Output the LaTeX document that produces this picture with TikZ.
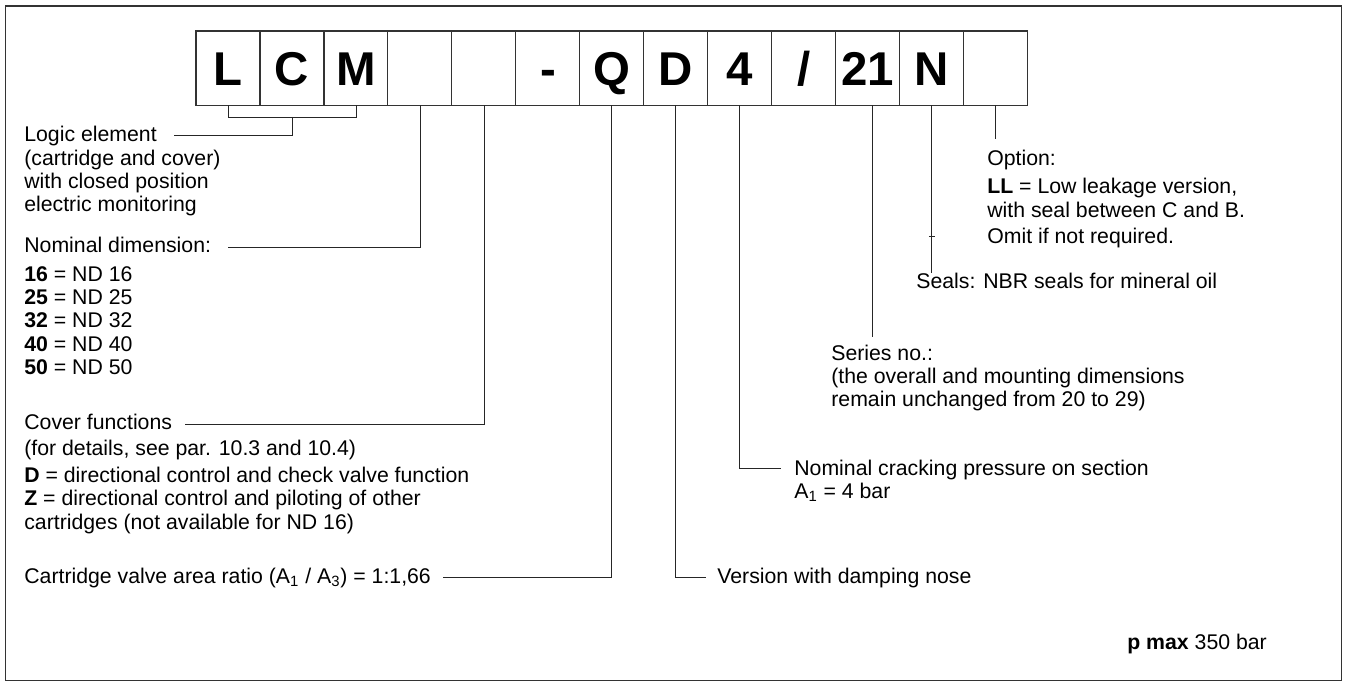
\documentclass[tikz,border=0pt]{standalone}
\usepackage{fontspec}
\setmainfont{Liberation Sans}
\usepackage{tikz}
\usetikzlibrary{positioning, calc}

\newcommand{\lblfont}{\fontsize{12.1}{13.2}\selectfont}

\begin{document}
\begin{tikzpicture}[x=0.02cm, y=-0.02cm,
    cell/.style={draw=black!80, line width=0.6pt, minimum width=1.28cm, minimum height=1.49cm,
                 inner sep=0pt, outer sep=0pt, text height=19.3pt, text depth=0pt,
                 font=\fontsize{27}{30}\selectfont\bfseries},
    lbl/.style={inner sep=0pt, anchor=base west, align=left, font=\lblfont},
    lead/.style={line width=0.5pt, black!85}
]
\useasboundingbox (0,0) rectangle (1347,682);
\draw[line width=0.7pt, black!80] (5.5,6) rectangle (1341.5,680.5);

% code boxes
\node[cell] (b1) at (228,68.25) {L};
\node[cell, right=0pt of b1] (b2) {C};
\node[cell, right=0pt of b2] (b3) {M};
\node[cell, right=0pt of b3] (b4) {};
\node[cell, right=0pt of b4] (b5) {};
\node[cell, right=0pt of b5] (b6) {-};
\node[cell, right=0pt of b6] (b7) {Q};
\node[cell, right=0pt of b7] (b8) {D};
\node[cell, right=0pt of b8] (b9) {4};
\node[cell, right=0pt of b9] (b10) {/};
\node[cell, right=0pt of b10] (b11) {21};
\node[cell, right=0pt of b11] (b12) {N};
\node[cell, right=0pt of b12] (b13) {};

% left column (multi-line nodes sit on their last line)
\node[lbl] (logic) at (24,141.5) {Logic element};
\node[lbl] (logicbody) at (24,211.4)
    {(cartridge and cover)\\with closed position\\electric monitoring};
\node[lbl] (nomdim) at (24,253) {Nominal dimension:};
\node[lbl] (nomlist) at (24,374.2)
    {\textbf{16} = ND 16\\\textbf{25} = ND 25\\\textbf{32} = ND 32\\\textbf{40} = ND 40\\\textbf{50} = ND 50};
\node[lbl] (cover) at (24,430) {Cover functions};
\node[lbl] (coverbody) at (24,529)
    {(for details, see par. 10.3 and 10.4)\\[2.4pt]
     \textbf{D} = directional control and check valve function\\
     \textbf{Z} = directional control and piloting of other\\
     cartridges (not available for ND 16)};
\node[lbl] (ratio) at (24,583)
    {Cartridge valve area ratio (A\textsubscript{1} / A\textsubscript{3}) = 1:1,66};

% right side
\node[lbl] (damp) at (717,583) {Version with damping nose};
\node[lbl] (crack) at (794,498.3) {Nominal cracking pressure on section\\A\textsubscript{1} = 4 bar};
\node[lbl] (series) at (831,406.6)
    {Series no.:\\(the overall and mounting dimensions\\remain unchanged from 20 to 29)};
\node[lbl] (seals) at (916,288.5) {Seals: NBR seals for mineral oil};
\node[lbl] (option) at (987,243.5)
    {Option:\\[3.2pt]\textbf{LL} = Low leakage version,\\with seal between C and B.\\[1.8pt]Omit if not required.};
\node[lbl] (pmax) at (1127,649.5) {\textbf{p max} 350 bar};

% leaders
\draw[lead] (b1.south) -- ++(0,11.5) -| (b3.south);
\draw[lead] (b2.south |- 0,117) |- ($(logic.base east)+(17,-6.5)$);
\draw[lead] (b4.south) |- ($(nomdim.base east)+(17,-6)$);
\draw[lead] (b5.south) |- ($(cover.base east)+(13,-6)$);
\draw[lead] (b7.south) |- ($(ratio.base east)+(12,-6)$);
\draw[lead] (b8.south) |- ($(damp.base west)+(-11,-6)$);
\draw[lead] (b9.south) |- ($(crack.north west)+(-13,9.5)$);
\draw[lead] ($(b11.south)+(5,0)$) -- ($(b11.south |- series.north)+(5,-7)$);
\draw[lead] (b12.south) -- (b12.south |- seals.north);
\draw[lead] ($(b12.south |- 0,236)+(-3,0)$) -- ++(6,0);
\draw[lead] (b13.south) -- ($(b13.south |- option.north)+(0,-10)$);
\end{tikzpicture}
\end{document}
